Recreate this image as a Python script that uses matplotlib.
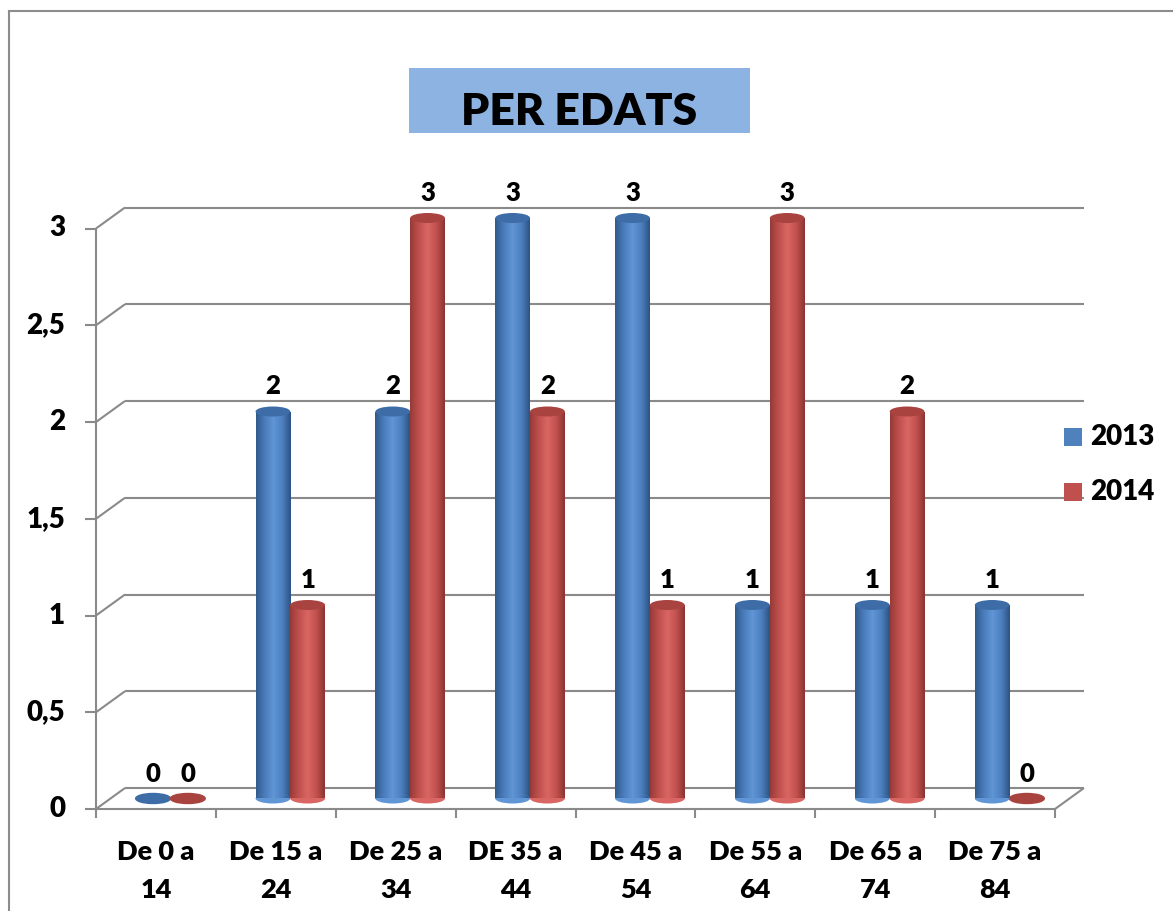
import numpy as np
import matplotlib
matplotlib.use("Agg")
import matplotlib.pyplot as plt
from matplotlib.patches import Ellipse, Rectangle
from matplotlib.lines import Line2D
from matplotlib.colors import LinearSegmentedColormap

plt.rcParams['font.family'] = ['Lato', 'DejaVu Sans']
FW = 'heavy'

categories = ["De 0 a\n14", "De 15 a\n24", "De 25 a\n34", "DE 35 a\n44",
              "De 45 a\n54", "De 55 a\n64", "De 65 a\n74", "De 75 a\n84"]
series_names = ["2013", "2014"]
values_2013 = [0, 2, 2, 3, 3, 1, 1, 1]
values_2014 = [0, 1, 3, 2, 1, 3, 2, 0]
y_ticks = [0, 0.5, 1, 1.5, 2, 2.5, 3]
y_labels = ["0", "0,5", "1", "1,5", "2", "2,5", "3"]

W, H = 1173, 911
fig = plt.figure(figsize=(W / 100, H / 100), dpi=100)

# plot area (mid depth of the fake 3d box), in pixels
ax_l, ax_r, ax_b, ax_t = 110.5, 1069.5, 798.5, 218
ax = fig.add_axes([ax_l / W, (H - ax_b) / H, (ax_r - ax_l) / W, (ax_b - ax_t) / H])
n = len(categories)
px_x = (ax_r - ax_l) / n
px_y = (ax_b - ax_t) / 3
DX = 14.5 / px_x   # mid -> back depth offset
DY = 10.5 / px_y

grid_c = "#8a8a8a"
lw = 1.5


def gline(xs, ys):
    ax.plot(xs, ys, color=grid_c, lw=lw, zorder=1, clip_on=False,
            solid_capstyle='butt')


# back wall gridlines + left wall diagonals
for y in y_ticks:
    gline([-0.5 + DX, n - 0.5 + DX], [y + DY, y + DY])
    gline([-0.5 - DX, -0.5 + DX], [y - DY, y + DY])
    gline([-0.5 - DX - 11 / px_x, -0.5 - DX], [y - DY, y - DY])

# floor front edge and right diagonal
gline([-0.5 - DX, n - 0.5 - DX], [-DY, -DY])
gline([n - 0.5 - DX, n - 0.5 + DX], [-DY, DY])
# front vertical axis
gline([-0.5 - DX, -0.5 - DX], [-DY, 3 - DY])
for b in np.arange(-0.5, n, 1.0):
    gline([b - DX, b - DX], [-DY, -DY - 9 / px_y])

cmap_blue = LinearSegmentedColormap.from_list(
    "b", ["#305a8b", "#4a7cba", "#6095d6", "#4d80bf", "#2d5283"], N=256)
cmap_red = LinearSegmentedColormap.from_list(
    "r", ["#953a38", "#c0504d", "#d96663", "#c3524f", "#8a3331"], N=256)
grad = np.linspace(0, 1, 256).reshape(1, -1)

bw = 0.29
eh = 10 / px_y
x = np.arange(n)


def cylinders(xs, vals, cmap, top_c, z):
    bars = ax.bar(xs, vals, width=bw, color=cmap(0.5), zorder=z, linewidth=0)
    for bar, xc, v in zip(bars, xs, vals):
        if v == 0:
            ax.add_patch(Ellipse((xc, 0), bw, eh, color=top_c, zorder=z, clip_on=False))
            continue
        im = ax.imshow(grad, cmap=cmap, aspect='auto', zorder=z,
                       extent=[xc - bw / 2, xc + bw / 2, 0, v])
        im.set_clip_path(bar)
        bot = Ellipse((xc, 0), bw, eh, color=cmap(0.5), zorder=z, linewidth=0,
                      clip_on=False)
        ax.add_patch(bot)
        im2 = ax.imshow(grad, cmap=cmap, aspect='auto', zorder=z,
                        extent=[xc - bw / 2, xc + bw / 2, -eh, eh])
        im2.set_clip_path(bot)
        im2.set_clip_box(None)
        ax.add_patch(Ellipse((xc, v), bw, eh, color=top_c, zorder=z + 0.1,
                             linewidth=0, clip_on=False))
    for xc, v in zip(xs, vals):
        ax.annotate(str(v), (xc, v), xytext=(0, 25 * 0.72), textcoords='offset points',
                    ha='center', va='center', fontsize=18.5, fontweight=FW, zorder=10)


cylinders(x - bw / 2, values_2013, cmap_blue, "#3d6ca6", 3)
cylinders(x + bw / 2, values_2014, cmap_red, "#a9433f", 4)

# axis labels
for y, lab in zip(y_ticks, y_labels):
    ax.text(-0.5 - DX - 31 / px_x, y - DY, lab, ha='right', va='center',
            fontsize=20, fontweight=FW)
for i, lab in enumerate(categories):
    ax.text(i - DX, -DY - 62 / px_y, lab, ha='center', va='center',
            fontsize=19.5, fontweight=FW, linespacing=1.7)

ax.set_xlim(-0.5, n - 0.5)
ax.set_ylim(0, 3)
ax.axis('off')

# chart border (left and top edges only visible)
fig.add_artist(Line2D([9 / W, 9 / W], [0, 1 - 11 / H], color="#8c8c8c", lw=1.5))
fig.add_artist(Line2D([9 / W, 1], [1 - 11 / H, 1 - 11 / H], color="#8c8c8c", lw=1.5))

# title box
fig.add_artist(Rectangle((409 / W, 1 - 133 / H), 341 / W, 65 / H,
                         facecolor="#8db3e2", edgecolor='none'))
fig.text(579.5 / W, 1 - 112 / H, "PER EDATS", ha='center', va='center',
         fontsize=32, fontweight=FW)

# legend
for name, c, yc in zip(series_names, ["#4f81bd", "#c0504d"], [437, 492]):
    fig.add_artist(Rectangle((1064 / W, 1 - (yc + 9) / H), 18 / W, 18 / H,
                             facecolor=c, edgecolor='none'))
    fig.text(1090 / W, 1 - yc / H, name, ha='left', va='center',
             fontsize=20, fontweight=FW)

fig.savefig("out.png", dpi=100)
